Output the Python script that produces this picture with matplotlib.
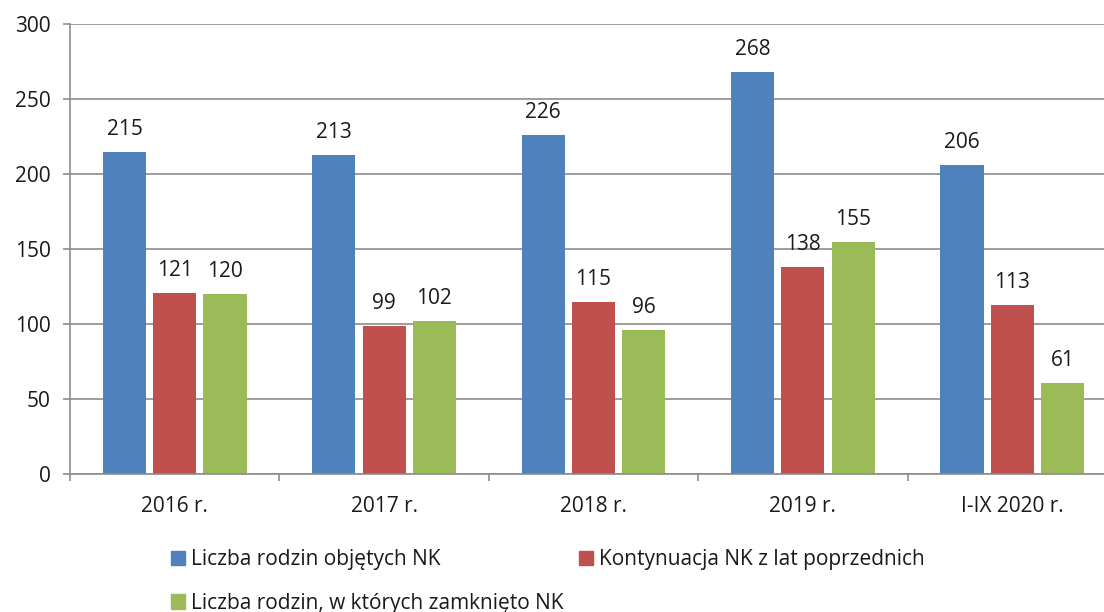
import numpy as np
import matplotlib
matplotlib.use('Agg')
import matplotlib.pyplot as plt
from matplotlib.patches import Patch

plt.rcParams['font.family'] = ['Open Sans', 'DejaVu Sans']

categories = ['2016 r.', '2017 r.', '2018 r.', '2019 r.', 'I-IX 2020 r.']
objete = [215, 213, 226, 268, 206]
kontynuacja = [121, 99, 115, 138, 113]
zamkniete = [120, 102, 96, 155, 61]

names = ['Liczba rodzin objętych NK', 'Kontynuacja NK z lat poprzednich',
         'Liczba rodzin, w których zamknięto NK']
colors = ['#4F81BD', '#C0504D', '#9BBB59']

fig = plt.figure(figsize=(11.04, 6.12), dpi=100)
ax = fig.add_axes([70 / 1104, 138 / 612, 1047 / 1104, 450 / 612])

x = np.arange(len(categories))
w = 0.206
step = 0.24
grid_c = '#8C8C8C'
txt_c = '#1a1a1a'

for k, vals in enumerate([objete, kontynuacja, zamkniete]):
    pos = x + (k - 1) * step
    ax.bar(pos, vals, w, color=colors[k], zorder=3)
    for p, v in zip(pos, vals):
        ax.annotate(str(v), (p, v), xytext=(0, 12), textcoords='offset points',
                    ha='center', va='baseline', fontsize=15, color=txt_c)

ax.set_xlim(-0.5, len(categories) - 0.5)
ax.set_ylim(0, 300)
ax.set_yticks(range(0, 301, 50))
ax.yaxis.grid(True, color=grid_c, linewidth=1.2, zorder=0)

ax.set_xticks(np.arange(len(categories) + 1) - 0.5)
ax.set_xticklabels([])
ax.set_xticks(x, minor=True)
ax.set_xticklabels(categories, minor=True)
ax.tick_params(axis='x', which='major', length=5, width=1.2, color=grid_c, direction='out')
ax.tick_params(axis='x', which='minor', length=0, pad=16, labelsize=15, labelcolor=txt_c)
ax.tick_params(axis='y', length=5, width=1.2, color=grid_c, pad=9, labelsize=15,
               labelcolor=txt_c)

for s in ['top', 'right']:
    ax.spines[s].set_visible(False)
for s in ['left', 'bottom']:
    ax.spines[s].set_color(grid_c)
    ax.spines[s].set_linewidth(1.2)
    ax.spines[s].set_zorder(4)

# excel fills the legend row by row, matplotlib column by column
handles = [Patch(color=colors[0]), Patch(color=colors[2]), Patch(color=colors[1])]
labels = [names[0], names[2], names[1]]
fig.legend(handles, labels, ncol=2, loc='upper left', bbox_to_anchor=(171 / 1104, 1 - 549 / 612),
           frameon=False, fontsize=15, handlelength=0.68, handleheight=0.68,
           handletextpad=0.3, columnspacing=0.7, labelspacing=1.1, borderpad=0,
           borderaxespad=0, labelcolor=txt_c)

fig.savefig('out.png', dpi=100)
